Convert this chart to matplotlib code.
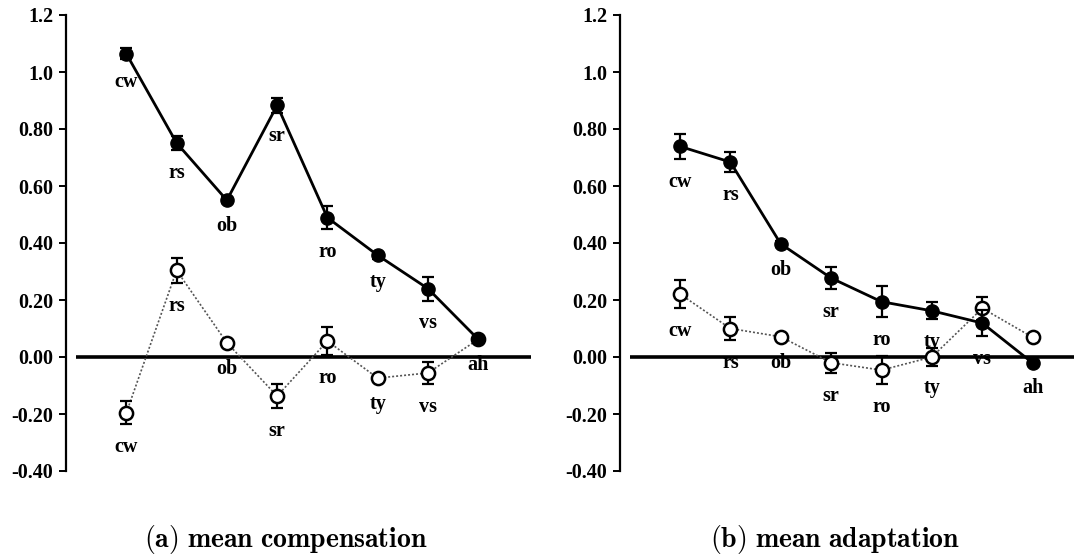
import matplotlib
matplotlib.use("Agg")
import matplotlib.pyplot as plt
import numpy as np

plt.rcParams['mathtext.fontset'] = 'cm'

categories = ["cw", "rs", "ob", "sr", "ro", "ty", "vs", "ah"]

# (a) mean compensation
comp_filled = [1.064, 0.751, 0.550, 0.883, 0.489, 0.357, 0.240, 0.062]
comp_filled_err = [0.020, 0.025, 0.010, 0.027, 0.040, 0.012, 0.042, 0.010]
comp_open = [-0.196, 0.304, 0.050, -0.137, 0.056, -0.074, -0.056, 0.062]
comp_open_err = [0.040, 0.045, 0.010, 0.042, 0.050, 0.010, 0.040, 0.010]
comp_filled_labels = ["cw", "rs", "ob", "sr", "ro", "ty", "vs", "ah"]
comp_open_labels = ["cw", "rs", "ob", "sr", "ro", "ty", "vs", ""]

# (b) mean adaptation
adap_filled = [0.739, 0.684, 0.397, 0.277, 0.194, 0.162, 0.119, -0.021]
adap_filled_err = [0.045, 0.035, 0.010, 0.040, 0.055, 0.030, 0.045, 0.006]
adap_open = [0.221, 0.100, 0.071, -0.020, -0.046, 0.000, 0.171, 0.069]
adap_open_err = [0.050, 0.040, 0.010, 0.035, 0.050, 0.030, 0.040, 0.010]
adap_filled_labels = ["cw", "rs", "ob", "sr", "ro", "ty", "vs", "ah"]
adap_open_labels = ["cw", "rs", "ob", "sr", "ro", "ty", "", ""]

ytick_vals = [-0.4, -0.2, 0.0, 0.2, 0.4, 0.6, 0.8, 1.0, 1.2]
ytick_labels = ["-0.40", "-0.20", "0.00", "0.20", "0.40", "0.60", "0.80", "1.0", "1.2"]

captions = [r"$\mathbf{(a)\ mean\ compensation}$", r"$\mathbf{(b)\ mean\ adaptation}$"]

W, H = 1074, 555
fig = plt.figure(figsize=(W / 100, H / 100), dpi=100)

serif = "Liberation Serif"

def panel(rect, xlim, filled, ferr, opn, oerr, flabels, olabels, caption, cap_x):
    ax = fig.add_axes(rect)
    x = np.arange(1, len(categories) + 1)
    ax.set_xlim(*xlim)
    ax.set_ylim(-0.4, 1.2)
    for s in ["top", "right", "bottom"]:
        ax.spines[s].set_visible(False)
    ax.spines["left"].set_linewidth(1.6)
    ax.set_xticks([])
    ax.set_yticks(ytick_vals)
    ax.set_yticklabels(ytick_labels, fontfamily=serif, fontweight="bold", fontsize=14.5)
    ax.tick_params(axis="y", direction="out", length=5, width=1.4, pad=4)
    ax.set_facecolor("none")
    # zero line
    ax.hlines(0, 0, xlim[1], color="black", lw=2.6, zorder=2)
    # open series
    ax.plot(x, opn, linestyle=(0, (1.2, 1.2)), color="#555555", lw=1.2, zorder=3)
    ax.errorbar(x, opn, yerr=oerr, fmt="none", ecolor="black", elinewidth=1.6,
                capsize=4.5, capthick=1.6, zorder=4)
    ax.plot(x, opn, linestyle="none", marker="o", markersize=9.5,
            markerfacecolor="white", markeredgecolor="black", markeredgewidth=1.8, zorder=5)
    # filled series
    ax.plot(x, filled, linestyle="-", color="black", lw=2.0, zorder=6)
    ax.errorbar(x, filled, yerr=ferr, fmt="none", ecolor="black", elinewidth=1.6,
                capsize=4.5, capthick=1.6, zorder=6)
    ax.plot(x, filled, linestyle="none", marker="o", markersize=9.5,
            markerfacecolor="black", markeredgecolor="black", zorder=7)
    # labels
    for xi, v, e, lab in zip(x, filled, ferr, flabels):
        if lab:
            ax.annotate(lab, xy=(xi, v - e), xytext=(0, -16.5), textcoords="offset points",
                        ha="center", va="center", fontfamily=serif, fontweight="bold",
                        fontsize=14.5, zorder=1)
    for xi, v, e, lab in zip(x, opn, oerr, olabels):
        if lab:
            ax.annotate(lab, xy=(xi, v - e), xytext=(0, -16.5), textcoords="offset points",
                        ha="center", va="center", fontfamily=serif, fontweight="bold",
                        fontsize=14.5, zorder=1)
    fig.text(cap_x, 1 - 540 / H, caption, ha="center", va="center", fontsize=20)
    return ax

bottom = 1 - 471 / H
height = (471 - 15) / H
panel([66 / W, bottom, 465 / W, height], (-0.2, 9.05),
      comp_filled, comp_filled_err, comp_open, comp_open_err,
      comp_filled_labels, comp_open_labels, captions[0], 286 / W)
panel([620 / W, bottom, 454 / W, height], (-0.19, 8.82),
      adap_filled, adap_filled_err, adap_open, adap_open_err,
      adap_filled_labels, adap_open_labels, captions[1], 835 / W)

fig.savefig("out.png", dpi=100, facecolor="white")
